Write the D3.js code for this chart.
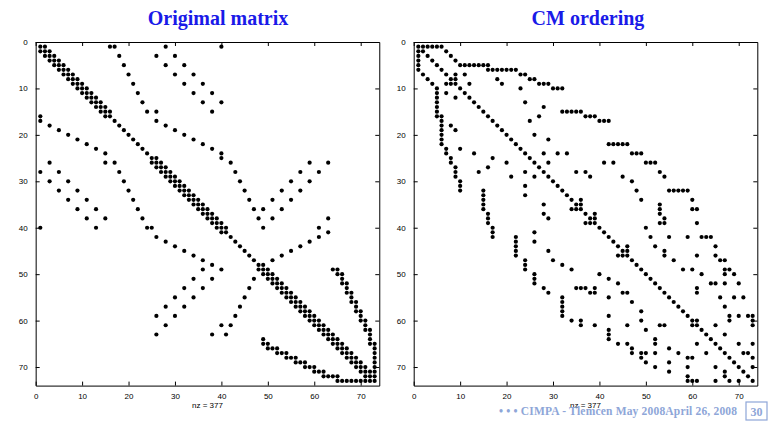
<!DOCTYPE html>
<html>
<head>
<meta charset="utf-8">
<script src="https://cdn.jsdelivr.net/npm/d3@7"></script>
<style>
  body { margin: 0; background: #fff; }
  .axis text { font-family: "Liberation Sans", Arial, sans-serif; font-size: 8px; fill: #000; }
  .axis path, .axis line { stroke: #000; stroke-width: 1; }
</style>
</head>
<body>
<div id="chart"></div>
<script>
// matrix order (spy axes run 0..N+1)
const N = 73;
const tickValues = [0, 10, 20, 30, 40, 50, 60, 70];
const panelTitles = ["Origimal matrix", "CM ordering"];
const nzLabel = "nz = 377";
const footerText = "CIMPA - Tlemcen May 2008April 26, 2008";
const pageNumber = "30";

// lower triangle (incl. diagonal) of the symmetric pattern, one list per row
const origLower = [
  [1], [1,2], [2,3], [3,4], [4,5], [5,6], [6,7], [7,8], [8,9], [9,10],
  [10,11], [11,12], [12,13], [13,14], [14,15], [1,15,16],
  [1,17], [3,18], [5,19], [7,20], [9,21], [11,22], [13,23], [15,24],
  [25], [3,15,17,25,26], [26,27], [1,5,18,27,28], [28,29], [3,7,19,29,30],
  [30,31], [5,9,20,31,32], [32,33], [7,11,21,33,34], [34,35], [9,13,22,35,36],
  [36,37], [11,15,23,37,38], [38,39], [1,13,24,25,39,40],
  [40,41], [26,42], [28,43], [30,44], [32,45], [34,46], [36,47], [38,48],
  [36,40,48,49], [49,50], [34,38,47,50,51], [51,52], [32,36,46,52,53], [53,54],
  [30,34,45,54,55], [55,56], [28,32,44,56,57], [57,58], [26,30,43,58,59], [59,60],
  [28,40,42,60,61], [61,62], [26,38,41,62,63], [49,63,64],
  [49,50,64,65], [50,51,52,65,66], [52,53,54,66,67], [54,55,56,67,68],
  [56,57,58,68,69], [58,59,60,69,70], [60,61,62,70,71], [62,63,64,65,71,72],
  [65,66,67,68,69,70,71,72,73]
];

const cmLower = [
  [1], [1,2], [1,3], [1,4], [1,5], [1,6], [2,7], [3,8], [4,7,8,9], [5,10],
  [5,7,11], [5,9,12], [5,13], [5,14], [5,15], [5,6,16], [6,17], [6,8,18], [6,9,19], [6,20],
  [6,21], [6,22], [7,10,23], [7,13,24], [8,17,25], [8,20,26], [9,16,27], [9,14,24,28], [9,21,26,29], [10,30],
  [10,24,31], [10,15,32], [15,24,33], [15,34], [15,28,35], [15,34,35,36], [16,28,37], [16,29,38], [16,37,38,39], [17,40],
  [17,26,41], [17,22,42], [22,26,43], [22,44], [22,29,45], [22,44,45,46], [24,30,47], [24,32,48], [24,34,49], [26,40,50],
  [26,42,51], [26,44,52], [28,35,36,37,39,53], [29,38,39,45,46,54], [32,42,55], [32,47,56], [32,57], [32,49,58], [32,42,59], [34,36,49,60],
  [36,39,46,53,54,60,61], [42,50,62], [42,63], [42,52,64], [44,46,52,61,65], [47,55,66], [47,49,50,52,57,63,67], [49,59,60,68], [50,55,69], [52,59,65,70],
  [55,67,71], [59,67,72], [59,60,61,65,68,70,73]
];

const W = 772, H = 425;
const panelSize = 343.6;
const panelX = [35.67, 413.7];
const titleX = [218, 588];
const panelY = 42;

const svg = d3.select("#chart").append("svg")
  .attr("width", W)
  .attr("height", H);

function drawSpy(x0, lower, title, tx) {
  const g = svg.append("g").attr("transform", "translate(" + x0 + "," + panelY + ")");
  const x = d3.scaleLinear().domain([0, N + 1]).range([0, panelSize]);
  const y = d3.scaleLinear().domain([0, N + 1]).range([0, panelSize]);

  // pattern is symmetric: each off-diagonal entry also drawn at its mirror
  const pts = [];
  lower.forEach(function(cols, i) {
    const r = i + 1;
    cols.forEach(function(c) {
      pts.push({r: r, c: c});
      if (c !== r) pts.push({r: c, c: r});
    });
  });

  g.append("g").selectAll("circle")
    .data(pts)
    .enter().append("circle")
      .attr("cx", function(d) { return x(d.c); })
      .attr("cy", function(d) { return y(d.r); })
      .attr("r", 2.1)
      .attr("fill", "#000");

  // box with inward ticks on all sides
  g.append("g").attr("class", "axis")
    .attr("transform", "translate(0," + panelSize + ")")
    .call(d3.axisBottom(x).tickValues(tickValues).tickSizeInner(-4).tickSizeOuter(0).tickPadding(8));
  g.append("g").attr("class", "axis")
    .call(d3.axisLeft(y).tickValues(tickValues).tickSizeInner(-4).tickSizeOuter(0).tickPadding(8));
  g.append("g").attr("class", "axis")
    .call(d3.axisTop(x).tickValues(tickValues).tickSizeInner(-4).tickSizeOuter(0).tickFormat(""));
  g.append("g").attr("class", "axis")
    .attr("transform", "translate(" + panelSize + ",0)")
    .call(d3.axisRight(y).tickValues(tickValues).tickSizeInner(-4).tickSizeOuter(0).tickFormat(""));

  g.append("text")
    .attr("x", panelSize / 2)
    .attr("y", panelSize + 22)
    .attr("text-anchor", "middle")
    .style("font-family", "Liberation Sans, Arial, sans-serif")
    .style("font-size", "8px")
    .text(nzLabel);

  svg.append("text")
    .attr("x", tx)
    .attr("y", 25)
    .attr("text-anchor", "middle")
    .style("font-family", "Liberation Serif, Times New Roman, serif")
    .style("font-weight", "bold")
    .style("font-size", "20px")
    .style("fill", "#1a1ae8")
    .text(title);
}

drawSpy(panelX[0], origLower, panelTitles[0], titleX[0]);
drawSpy(panelX[1], cmLower, panelTitles[1], titleX[1]);

// slide footer
const footer = svg.append("g");
footer.append("text")
  .attr("x", 499)
  .attr("y", 415)
  .attr("textLength", 238)
  .style("font-family", "Liberation Serif, Times New Roman, serif")
  .style("font-weight", "bold")
  .style("font-size", "11.5px")
  .style("fill", "#8ea6d8")
  .text("\u2022  \u2022  \u2022  " + footerText);
footer.append("rect")
  .attr("x", 746).attr("y", 402)
  .attr("width", 21).attr("height", 18)
  .attr("fill", "none")
  .attr("stroke", "#8ea6d8")
  .attr("stroke-width", 1.2);
footer.append("text")
  .attr("x", 756.5).attr("y", 415.5)
  .attr("text-anchor", "middle")
  .style("font-family", "Liberation Serif, Times New Roman, serif")
  .style("font-weight", "bold")
  .style("font-size", "12px")
  .style("fill", "#8ea6d8")
  .text(pageNumber);
</script>
</body>
</html>
